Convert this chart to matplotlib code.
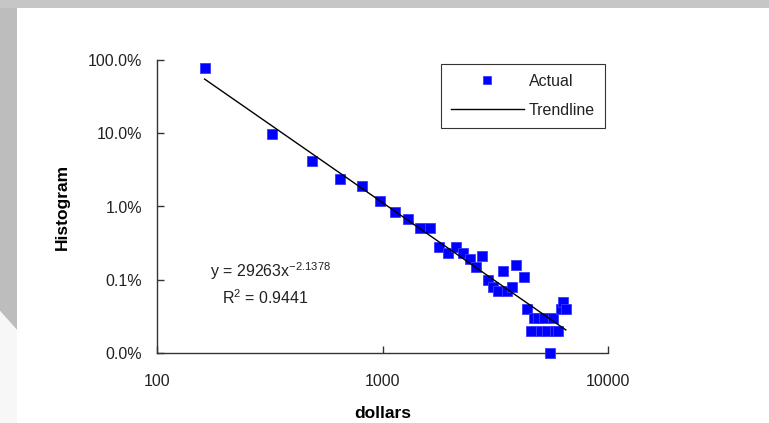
import matplotlib
matplotlib.use("Agg")
import matplotlib.pyplot as plt
from matplotlib.patches import Polygon, Rectangle
from matplotlib.ticker import FixedLocator, FixedFormatter, NullLocator
import numpy as np

plt.rcParams['font.family'] = ['Liberation Sans', 'DejaVu Sans']
plt.rcParams['mathtext.default'] = 'regular'

# Data (bin dollars, histogram fraction)
dollars = [162.5, 325, 487.5, 650, 812.5, 975, 1137.5, 1300, 1462.5, 1625,
           1787.5, 1950, 2112.5, 2275, 2437.5, 2600, 2762.5, 2925, 3087.5, 3250,
           3412.5, 3575, 3737.5, 3900, 4225, 4387.5, 4550, 4712.5, 4875,
           5037.5, 5200, 5362.5, 5525, 5687.5, 5850, 6012.5, 6175, 6337.5, 6500]
histogram = [0.776, 0.098, 0.042, 0.024, 0.019, 0.0119, 0.0084, 0.0067, 0.0051, 0.0051,
             0.0028, 0.0023, 0.0028, 0.0023, 0.0019, 0.0015, 0.0021, 0.0010, 0.0008, 0.0007,
             0.0013, 0.0007, 0.0008, 0.0016, 0.0011, 0.0004, 0.0002, 0.0003, 0.0003,
             0.0002, 0.0003, 0.0002, 0.0001, 0.0003, 0.0002, 0.0002, 0.0004, 0.0005, 0.0004]
trend_a = 29263
trend_b = -2.1378
r_squared = 0.9441
y_ticks = [1e-4, 1e-3, 1e-2, 1e-1, 1.0]
y_tick_labels = ['0.0%', '0.1%', '1.0%', '10.0%', '100.0%']
x_ticks = [100, 1000, 10000]
x_tick_labels = ['100', '1000', '10000']

W, H = 769, 423
fig = plt.figure(figsize=(W / 100, H / 100), dpi=100)
fig.patch.set_facecolor('white')

# slide-like background decorations
def px(x, y):
    return (x / W, 1 - y / H)

fig.patches.append(Rectangle(px(0, 8), 1, 8 / H, transform=fig.transFigure,
                             facecolor='#c6c6c6', edgecolor='none', zorder=0))
fig.patches.append(Polygon([px(0, 8), px(17, 8), px(17, 330), px(0, 311)], closed=True,
                           transform=fig.transFigure, facecolor='#bdbdbd', edgecolor='none', zorder=0))
fig.patches.append(Polygon([px(0, 311), px(17, 330), px(17, 423), px(0, 423)], closed=True,
                           transform=fig.transFigure, facecolor='#f7f7f7', edgecolor='none', zorder=0))

ax = fig.add_axes([157 / W, 1 - 353 / H, (608 - 157) / W, (353 - 60) / H])
ax.set_facecolor('none')
ax.set_xscale('log')
ax.set_yscale('log')
ax.set_xlim(100, 10000)
ax.set_ylim(1e-4, 1.0)

xd = np.array(dollars)
ax.plot(xd, histogram, linestyle='none', marker='s', markersize=7.8,
        markerfacecolor='#0000ff', markeredgecolor='#3a3aff', markeredgewidth=0.6,
        label='Actual', zorder=3, clip_on=False)
xt = np.linspace(xd.min(), xd.max(), 200)
ax.plot(xt, trend_a * xt ** trend_b, color='black', linewidth=1.0,
        label='Trendline', zorder=4)

for s in ['top', 'right']:
    ax.spines[s].set_visible(False)
for s in ['left', 'bottom']:
    ax.spines[s].set_color('#333333')
    ax.spines[s].set_linewidth(1.0)

ax.yaxis.set_major_locator(FixedLocator(y_ticks))
ax.yaxis.set_major_formatter(FixedFormatter(y_tick_labels))
ax.xaxis.set_major_locator(FixedLocator(x_ticks))
ax.xaxis.set_major_formatter(FixedFormatter(x_tick_labels))
ax.yaxis.set_minor_locator(NullLocator())
ax.xaxis.set_minor_locator(NullLocator())
ax.tick_params(axis='both', direction='in', length=5, width=1.0, color='#333333',
               labelsize=11.5, labelcolor='#222222')
ax.tick_params(axis='y', pad=10.8)
ax.tick_params(axis='x', pad=15)

ax.set_xlabel('dollars', fontsize=12.5, fontweight='bold', labelpad=12)
ax.set_ylabel('Histogram', fontsize=12.5, fontweight='bold', labelpad=13)

fig.text(210 / W, 1 - 271 / H, 'y = %dx$^{%.4f}$' % (trend_a, trend_b),
         ha='left', va='center', fontsize=11.5, color='#222222')
fig.text(265 / W, 1 - 298 / H, 'R$^{2}$ = %.4f' % r_squared,
         ha='center', va='center', fontsize=11.5, color='#222222')

leg = ax.legend(loc='upper left', bbox_to_anchor=((441 - 157) / 451, (353 - 64) / 293),
                borderaxespad=0, frameon=True, fancybox=False, fontsize=11.5,
                handlelength=4.6, borderpad=0.6, labelspacing=0.9,
                handletextpad=0.3, markerscale=0.8)
leg.get_frame().set_edgecolor('black')
leg.get_frame().set_linewidth(0.8)
for t in leg.get_texts():
    t.set_color('#222222')

fig.savefig('out.png', dpi=100, facecolor=fig.get_facecolor())
